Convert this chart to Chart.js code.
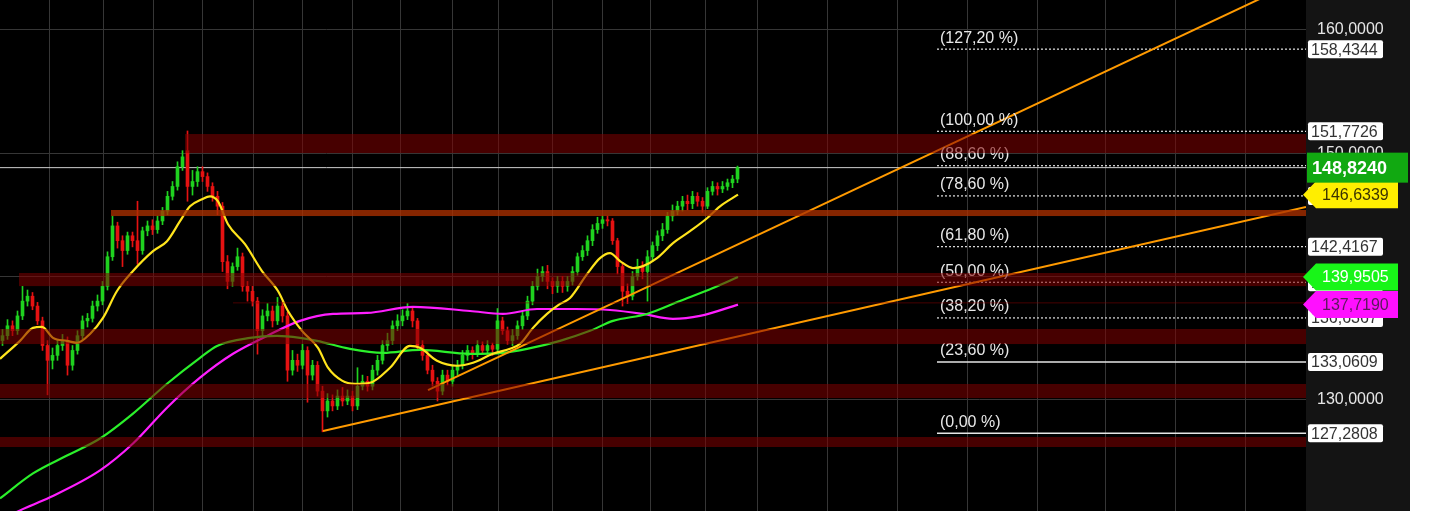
<!DOCTYPE html>
<html>
<head>
<meta charset="utf-8">
<script src="https://cdn.jsdelivr.net/npm/chart.js@4.4.1/dist/chart.umd.min.js"></script>
<style>
  html, body { margin: 0; padding: 0; background: #fff; }
  #wrap { width: 1433px; height: 511px; position: relative; }
  #strip { position: absolute; left: 1410px; top: 0; width: 23px; height: 511px; background: #fff; }
  canvas { display: block; }
</style>
</head>
<body>
<div id="wrap"><canvas id="chart" width="1433" height="511" style="width:1433px;height:511px"></canvas><div id="strip"></div></div>
<script>
// candles, one per bar index
const opens = [
  134.8,135.2,136.0,135.6,136.8,138.0,138.4,137.6,136.4,134.4,
  133.2,133.6,134.4,134.8,132.8,134.0,135.2,136.4,136.6,137.6,
  138.0,139.2,141.6,144.1,142.9,142.1,143.3,142.9,142.1,143.7,
  144.1,143.8,144.5,145.3,146.5,147.3,148.9,150.2,147.3,147.7,
  148.5,148.1,147.3,146.5,145.7,141.2,139.6,140.8,141.6,139.2,
  138.8,138.0,135.6,136.8,137.2,136.4,137.6,136.8,132.4,133.2,
  132.8,134.0,132.0,132.8,130.7,129.1,129.9,129.5,130.3,129.9,
  130.3,129.5,131.1,131.5,131.1,132.4,133.2,134.4,134.8,136.0,
  136.4,136.8,137.2,136.4,134.4,133.6,132.4,131.5,130.7,132.0,
  131.5,132.4,132.8,133.6,134.0,133.8,134.4,134.0,134.4,134.1,
  136.4,135.6,134.8,135.2,136.0,136.8,138.0,139.2,140.0,140.4,
  139.6,139.2,139.6,139.2,139.6,140.4,141.6,142.1,142.9,143.8,
  144.3,144.6,144.5,142.9,140.8,138.8,138.4,140.0,140.8,140.4,
  141.6,142.5,143.3,143.8,144.9,145.3,145.7,146.1,145.9,146.5,
  146.1,145.7,146.9,147.3,147.1,147.3,147.6,147.9
];
const highs = [
  135.7,136.5,136.4,137.2,139.2,138.9,138.7,137.9,136.7,134.8,
  134.2,134.9,135.3,135.1,134.4,135.6,136.8,137.0,138.0,138.5,
  139.6,142.0,144.9,144.4,143.3,143.6,143.6,146.1,144.0,144.5,
  144.6,144.9,145.6,146.9,147.7,149.3,150.2,151.8,148.6,148.9,
  148.9,148.4,147.6,146.9,146.0,141.7,141.1,142.3,141.9,139.6,
  139.2,138.3,137.3,137.8,137.6,138.3,138.0,137.1,134.0,133.7,
  134.5,134.3,133.2,133.1,131.1,130.5,130.4,130.8,131.0,130.8,
  130.7,132.6,132.0,131.9,132.8,133.6,134.8,135.4,136.4,136.9,
  137.3,137.8,137.5,136.6,134.8,134.0,132.8,131.8,132.4,132.4,
  132.8,133.2,134.0,134.4,134.3,134.8,134.7,134.8,134.6,137.4,
  136.7,135.9,135.7,136.4,137.2,138.4,139.6,140.6,140.8,140.9,
  139.9,140.0,140.0,140.0,140.8,141.9,142.5,143.3,144.2,144.8,
  144.9,144.9,144.7,143.1,141.1,139.4,140.4,141.4,141.2,142.1,
  142.8,143.7,144.3,145.2,145.8,146.1,146.5,146.6,146.9,146.8,
  146.4,147.2,147.7,147.6,147.7,147.9,148.2,148.95
];
const lows = [
  134.4,134.9,135.2,135.3,136.5,137.6,137.3,136.1,134.0,130.4,
  132.5,133.2,134.0,132.0,132.4,133.7,134.9,135.9,136.3,137.2,
  137.7,138.9,141.3,142.3,140.8,141.8,142.4,141.0,141.8,143.3,
  143.4,143.5,144.2,145.0,146.2,147.0,148.6,146.1,146.6,147.3,
  147.7,146.9,146.1,145.0,140.4,139.0,139.2,140.5,138.8,138.0,
  137.6,133.7,135.2,136.4,135.9,136.1,136.3,131.5,132.0,132.3,
  132.5,129.8,131.6,130.3,127.4,128.6,129.1,129.2,129.5,129.6,
  129.1,129.2,130.8,130.7,130.8,132.0,132.9,134.0,134.5,135.6,
  136.0,136.5,135.9,134.0,133.2,132.1,131.1,129.9,130.4,131.2,
  131.1,132.0,132.5,133.2,133.3,133.5,133.7,133.7,133.6,133.8,
  135.3,134.5,134.4,134.9,135.7,136.5,137.7,138.9,139.6,139.0,
  138.6,138.7,138.7,138.8,139.3,140.1,141.3,141.7,142.5,143.5,
  143.9,144.1,142.6,140.2,137.6,137.8,138.1,139.7,139.8,138.0,
  141.2,142.1,142.9,143.5,144.5,145.0,145.3,145.4,145.5,145.7,
  145.2,145.5,146.6,146.6,146.8,147.0,147.2,147.6
];
const closes = [
  135.2,136.0,135.6,136.8,138.0,138.4,137.6,136.4,134.4,133.2,
  133.6,134.4,134.8,132.8,134.0,135.2,136.4,136.6,137.6,138.0,
  139.2,141.6,144.1,142.9,142.1,143.3,142.9,142.1,143.7,144.1,
  143.8,144.5,145.3,146.5,147.3,148.9,149.7,147.3,147.7,148.5,
  148.1,147.3,146.5,145.7,141.2,139.6,140.8,141.6,139.2,138.8,
  138.0,135.6,136.8,137.2,136.4,137.6,136.8,132.4,133.2,132.8,
  134.0,132.0,132.8,130.7,129.1,129.9,129.5,130.3,129.9,130.3,
  129.5,131.1,131.5,131.1,132.4,133.2,134.4,134.8,136.0,136.4,
  136.8,137.2,136.4,134.4,133.6,132.4,131.5,130.7,132.0,131.5,
  132.4,132.8,133.6,134.0,133.8,134.4,134.0,134.4,134.1,136.4,
  135.6,134.8,135.2,136.0,136.8,138.0,139.2,140.0,140.4,139.6,
  139.2,139.6,139.2,139.6,140.4,141.6,142.1,142.9,143.8,144.3,
  144.6,144.5,142.9,140.8,138.8,138.4,140.0,140.8,140.4,141.6,
  142.5,143.3,143.8,144.9,145.3,145.7,146.1,145.9,146.5,146.1,
  145.7,146.9,147.3,147.1,147.3,147.6,147.9,148.824
];

// moving averages (bar index, price)
const yellowX = [-0.5,3.5,6.1,7.9,10.1,12.9,14.9,17.5,20.1,22.9,26.1,30.1,32.9,35.5,37.5,39.9,41.5,43.1,45.1,48.5,51.9,55.1,57.1,59.9,63.1,65.1,67.9,70.5,73.5,77.5,81.5,83.5,86.9,90.9,94.1,98.1,101.5,103.5,106.1,108.9,111.5,113.5,116.9,119.5,121.5,123.5,126.1,128.1,130.9,134.1,137.5,140.9,143.5,147.1];
const yellowY = [133.32,134.78,135.83,135.91,135.02,134.78,134.62,135.34,136.64,138.82,140.44,142.05,142.86,144.48,145.69,146.26,146.50,146.09,144.24,142.62,140.44,138.82,137.20,135.59,134.21,132.60,131.55,131.30,131.38,132.60,134.37,134.21,133.16,132.76,133.00,133.73,134.13,134.53,135.83,136.96,137.77,138.25,140.19,141.49,141.89,141.25,140.68,140.84,141.49,142.70,143.67,144.72,145.69,146.6339];
const greenX = [-0.5,6.1,12.9,19.5,26.1,32.9,39.5,42.9,49.5,54.9,59.5,62.9,69.5,76.1,83.5,93.5,100.1,104.9,111.5,117.5,122.1,128.9,135.5,142.1,147.1];
const greenY = [122.0,124.03,125.48,126.86,128.88,131.30,133.40,134.37,135.02,135.18,135.02,134.78,134.13,133.81,134.05,133.73,133.81,134.13,134.78,135.59,136.40,136.96,138.01,139.06,139.9505];
const magentaX = [-0.5,3.5,9.5,19.5,26.1,32.9,39.5,46.1,52.9,59.5,66.1,72.9,82.1,93.5,100.1,106.9,114.5,121.5,128.1,134.1,139.5,147.1];
const magentaY = [120.2,121.03,122.09,124.27,126.45,129.36,131.79,133.73,135.18,136.40,136.96,137.04,137.53,137.20,136.96,137.36,137.36,137.28,136.96,136.56,136.80,137.719];

// trend lines: [startIndex, startPrice, endIndex, endPrice]
const trendLow = [64.1, 127.46, 260.7, 145.63];
const trendHigh = [85.1, 130.79, 260.7, 164.27];

// fibonacci retracement
const fibStart = 186.9;
const fibPct = ['127,20', '100,00', '88,60', '78,60', '61,80', '50,00', '38,20', '23,60', '0,00'];
const fibValues = [158.4344, 151.7726, 148.9808, 146.5320, 142.4167, 139.5267, 136.6367, 133.0609, 127.2808];

// support / resistance zones
const zoneStart = [36.5, 21.7, 3.3, 46.1, -0.5, -0.5, -0.5];
const zoneTop = [151.55, 145.39, 140.28, 137.93, 135.74, 131.28, 126.98];
const zoneBottom = [150.01, 144.90, 139.22, 137.80, 134.52, 130.14, 126.17];

const lastPrice = 148.824;
const gridX = [9.3, 20.1, 30.1, 39.9, 50.1, 59.9, 69.9, 79.5, 89.9, 99.1, 109.9, 119.9, 129.5, 140.5, 150.9, 164.9, 178.9, 192.9, 206.9, 220.5, 234.5, 248.5];
const yTicks = [130, 140, 150, 160];

const X_MIN = -0.5, X_MAX = 260.7;
const W = 1433, H = 511;
const FONT = 'Arial, "Liberation Sans", sans-serif';
const fmt = v => v.toFixed(4).replace('.', ',');

const upColor = '#1fd21f', downColor = '#e51212';
const candleColors = closes.map((c, i) => c >= opens[i] ? upColor : downColor);
const pts = (xs, ys) => xs.map((x, i) => ({ x: x, y: ys[i] }));

const datasets = [
  {
    type: 'line', order: 1, data: [{ x: trendLow[0], y: trendLow[1] }, { x: trendLow[2], y: trendLow[3] }],
    borderColor: '#ff9a00', borderWidth: 2, pointRadius: 0
  },
  {
    type: 'line', order: 1, data: [{ x: trendHigh[0], y: trendHigh[1] }, { x: trendHigh[2], y: trendHigh[3] }],
    borderColor: '#ff9a00', borderWidth: 2, pointRadius: 0
  },
  {
    type: 'line', order: 2, data: pts(yellowX, yellowY),
    borderColor: '#ffe41c', borderWidth: 2.2, pointRadius: 0, cubicInterpolationMode: 'monotone'
  },
  {
    type: 'line', order: 3, data: pts(greenX, greenY),
    borderColor: '#2bf02b', borderWidth: 2.2, pointRadius: 0, cubicInterpolationMode: 'monotone'
  },
  {
    type: 'line', order: 4, data: pts(magentaX, magentaY),
    borderColor: '#ff1eff', borderWidth: 2.2, pointRadius: 0, cubicInterpolationMode: 'monotone'
  },
  {
    type: 'bar', order: 5, grouped: false,
    data: opens.map((o, i) => ({ x: i, y: [o, closes[i]] })),
    backgroundColor: candleColors, barThickness: 3, minBarLength: 1
  },
  {
    type: 'bar', order: 6, grouped: false,
    data: lows.map((l, i) => ({ x: i, y: [l, highs[i]] })),
    backgroundColor: candleColors, barThickness: 1
  },
  {
    type: 'line', order: 8, data: [{ x: X_MIN, y: lastPrice }, { x: X_MAX, y: lastPrice }],
    borderColor: '#cfcfcf', borderWidth: 1, pointRadius: 0
  }
];

fibValues.forEach((v, i) => {
  const solid = fibPct[i] === '23,60' || fibPct[i] === '0,00';
  datasets.push({
    type: 'line', order: 7, data: [{ x: fibStart, y: v }, { x: X_MAX, y: v }],
    borderColor: '#e6e6e6', borderWidth: solid ? 1.5 : 1.2, borderDash: solid ? [] : [2, 2],
    pointRadius: 0
  });
});

const backdrop = {
  id: 'backdrop',
  beforeDraw(chart) {
    const { ctx, chartArea: a } = chart;
    ctx.save();
    ctx.fillStyle = '#000';
    ctx.fillRect(0, 0, 1410, H);
    ctx.fillStyle = '#141414';
    ctx.fillRect(a.right, 0, 1410 - a.right, H);
    ctx.fillStyle = '#fff';
    ctx.fillRect(1410, 0, W - 1410, H);
    ctx.restore();
  }
};

const overlays = {
  id: 'overlays',
  afterDatasetsDraw(chart) {
    const { ctx, chartArea: a, scales: { x, y } } = chart;
    ctx.save();
    // fib labels
    ctx.font = '16px ' + FONT;
    ctx.fillStyle = '#e8e8e8';
    ctx.textBaseline = 'middle';
    ctx.textAlign = 'left';
    const lx = x.getPixelForValue(fibStart) + 3;
    fibValues.forEach((v, i) => {
      ctx.fillText('(' + fibPct[i] + ' %)', lx, y.getPixelForValue(v) - 11);
    });
    // zones on top, translucent
    ctx.beginPath();
    ctx.rect(a.left, a.top, a.right - a.left, a.bottom - a.top);
    ctx.clip();
    zoneStart.forEach((s, i) => {
      const x1 = x.getPixelForValue(s);
      const y1 = y.getPixelForValue(zoneTop[i]);
      const y2 = y.getPixelForValue(zoneBottom[i]);
      ctx.fillStyle = i === 1 ? 'rgba(170,48,0,0.78)' : (i === 3 ? 'rgba(130,0,0,0.35)' : 'rgba(130,0,0,0.55)');
      ctx.fillRect(x1, y1, a.right - x1, y2 - y1);
    });
    ctx.restore();
  },
  afterDraw(chart) {
    const { ctx, chartArea: a, scales: { y } } = chart;
    const left = a.right + 2;
    ctx.save();
    ctx.textBaseline = 'middle';
    ctx.textAlign = 'left';

    // white value boxes for fib levels
    ctx.font = '16px ' + FONT;
    fibValues.forEach(v => {
      const py = y.getPixelForValue(v);
      ctx.fillStyle = '#fff';
      ctx.beginPath();
      ctx.roundRect(left, py - 9, 75, 18, 2);
      ctx.fill();
      ctx.fillStyle = '#333';
      ctx.fillText(fmt(v), left + 3, py + 1);
    });

    // moving average tags with pointer
    const tag = (v, bg, fg) => {
      const py = y.getPixelForValue(v);
      ctx.fillStyle = bg;
      ctx.beginPath();
      ctx.moveTo(a.right - 3, py);
      ctx.lineTo(a.right + 10, py - 13.5);
      ctx.lineTo(a.right + 92, py - 13.5);
      ctx.lineTo(a.right + 92, py + 13.5);
      ctx.lineTo(a.right + 10, py + 13.5);
      ctx.closePath();
      ctx.fill();
      ctx.fillStyle = fg;
      ctx.fillText(fmt(v), a.right + 16, py + 1);
    };
    tag(yellowY[yellowY.length - 1], '#ffee00', '#3a3300');
    tag(greenY[greenY.length - 1], '#18f518', '#ffffff');
    tag(magentaY[magentaY.length - 1], '#ff10ff', '#5a1a5a');

    // last price box
    const py = y.getPixelForValue(lastPrice);
    ctx.fillStyle = '#11a911';
    ctx.fillRect(a.right + 1, py - 15, 101, 30);
    ctx.font = 'bold 18px ' + FONT;
    ctx.fillStyle = '#fff';
    ctx.fillText(fmt(lastPrice), a.right + 6, py + 1);
    ctx.restore();
  }
};

new Chart(document.getElementById('chart'), {
  type: 'bar',
  data: { datasets: datasets },
  options: {
    responsive: false,
    animation: false,
    layout: { padding: 0 },
    plugins: { legend: { display: false }, tooltip: { enabled: false } },
    scales: {
      x: {
        type: 'linear', min: X_MIN, max: X_MAX, offset: false,
        afterBuildTicks: axis => { axis.ticks = gridX.map(v => ({ value: v })); },
        afterFit: axis => { axis.height = 0; axis.paddingLeft = 0; axis.paddingRight = 0; },
        grid: { color: '#363636', drawTicks: false, offset: false },
        border: { display: false },
        ticks: { display: false }
      },
      y: {
        position: 'right', min: 120.98, max: 162.42,
        afterBuildTicks: axis => { axis.ticks = yTicks.map(v => ({ value: v })); },
        afterFit: axis => { axis.width = 127; axis.paddingTop = 0; axis.paddingBottom = 0; },
        grid: { color: '#363636', drawTicks: false },
        border: { display: false },
        ticks: { color: '#e6e6e6', padding: 11, font: { size: 16, family: FONT }, callback: v => fmt(v) }
      }
    }
  },
  plugins: [backdrop, overlays]
});
</script>
</body>
</html>
